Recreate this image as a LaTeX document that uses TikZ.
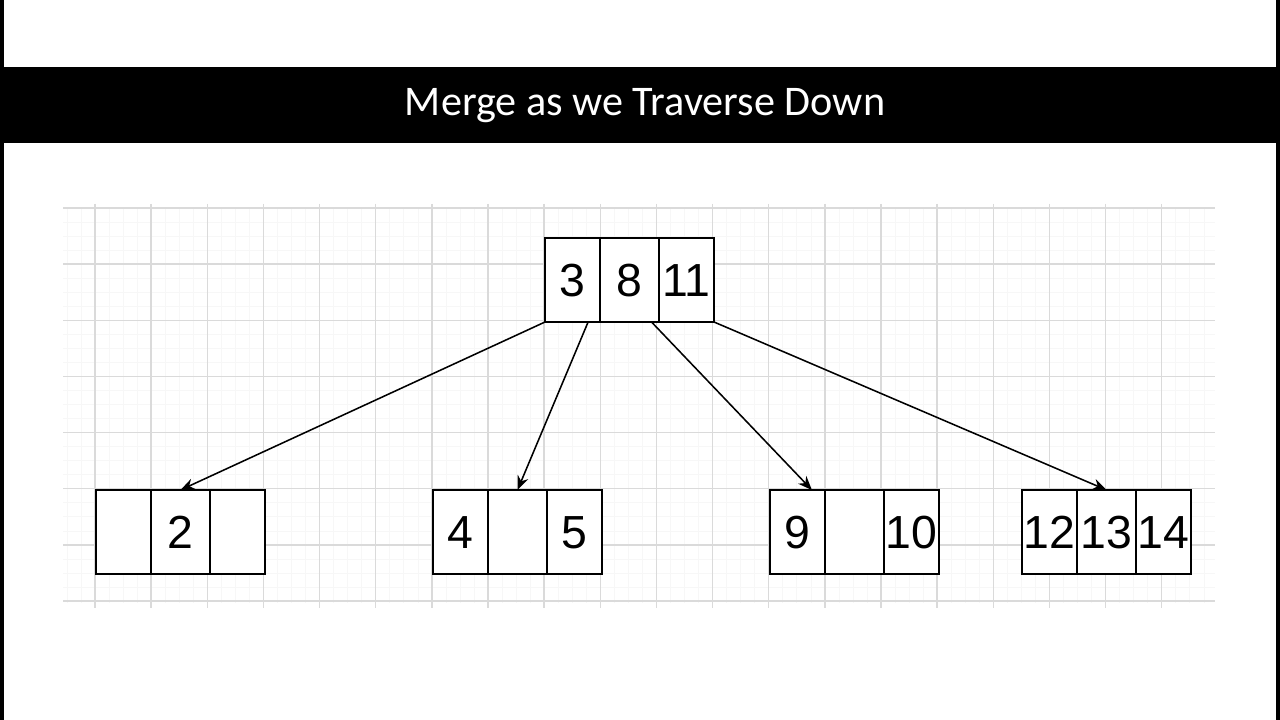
\documentclass[tikz,border=0pt]{standalone}
\usepackage{fontspec}
\setmainfont{Liberation Sans}
\newfontfamily\titlefont{Carlito}
\usetikzlibrary{
	arrows.meta,
	positioning
}
\definecolor{GridMajor}{RGB}{218,218,218}
\definecolor{GridMinor}{RGB}{247,247,247}

\tikzset{
	cell/.style={draw, line width=1.3pt, minimum width=1.375cm, minimum height=2.1cm,
		inner sep=0pt, outer sep=0pt, text height=23.6pt, text depth=0pt,
		font=\fontsize{33}{33}\selectfont},
	midcell/.style={cell, minimum width=1.475cm},
	link/.style={line width=1.1pt, -{Stealth[length=10pt,width=8pt]}}
}

\begin{document}
\begin{tikzpicture}[x=0.025cm, y=-0.025cm]
		\useasboundingbox (0,0) rectangle (1280,720);
		\fill[white] (0,0) rectangle (1280,720);
		% side bars and title bar
		\fill[black] (0,0) rectangle (4,720);
		\fill[black] (1276,0) rectangle (1280,720);
		\fill[black] (0,67) rectangle (1280,143);
		\node[text=white, font=\titlefont\fontsize{30}{30}\selectfont] (title) at (645,106) {Merge as we Traverse Down};
		
		% grid
		\foreach \i in {-2,...,79} {
			\draw[GridMinor, line width=0.4pt] ({95+14.035*\i},208) -- ({95+14.035*\i},603);
		}
		\foreach \j in {1,...,27} {
			\draw[GridMinor, line width=0.4pt] (63,{208+14.035*\j}) -- (1215,{208+14.035*\j});
		}
		\foreach \i in {0,...,19} {
			\draw[GridMajor, line width=1pt] ({95+56.14*\i},204) -- ({95+56.14*\i},608);
		}
		\foreach \j in {0,...,7} {
			\draw[GridMajor, line width=1pt] (63,{208+56.14*\j}) -- (1215,{208+56.14*\j});
		}
		
		% root
		\node[cell, fill=white] (r1) at (572.5,280) {3};
		\node[midcell, fill=white, right=0pt of r1] (r2) {8};
		\node[cell, fill=white, right=0pt of r2] (r3) {11};
		
		% leaves
		\node[cell, fill=white] (a1) at (123.5,532) {};
		\node[midcell, fill=white, right=0pt of a1] (a2) {2};
		\node[cell, fill=white, right=0pt of a2] (a3) {};
		
		\node[cell, fill=white] (b1) at (460.5,532) {4};
		\node[midcell, fill=white, right=0pt of b1] (b2) {};
		\node[cell, fill=white, right=0pt of b2] (b3) {5};
		
		\node[cell, fill=white] (c1) at (797.5,532) {9};
		\node[midcell, fill=white, right=0pt of c1] (c2) {};
		\node[cell, fill=white, right=0pt of c2] (c3) {10};
		
		\node[cell, fill=white] (d1) at (1049.5,532) {12};
		\node[midcell, fill=white, right=0pt of d1] (d2) {13};
		\node[cell, fill=white, right=0pt of d2] (d3) {14};
		
		% pointers
		\draw[link] (r1.south west) -- (a2.north);
		\draw[link] ([xshift=0.39cm]r1.south) -- (b2.north);
		\draw[link] ([xshift=0.55cm]r2.south) -- ([xshift=0.36cm]c1.north);
		\draw[link] (r3.south east) -- (d2.north);
	\end{tikzpicture}
\end{document}
